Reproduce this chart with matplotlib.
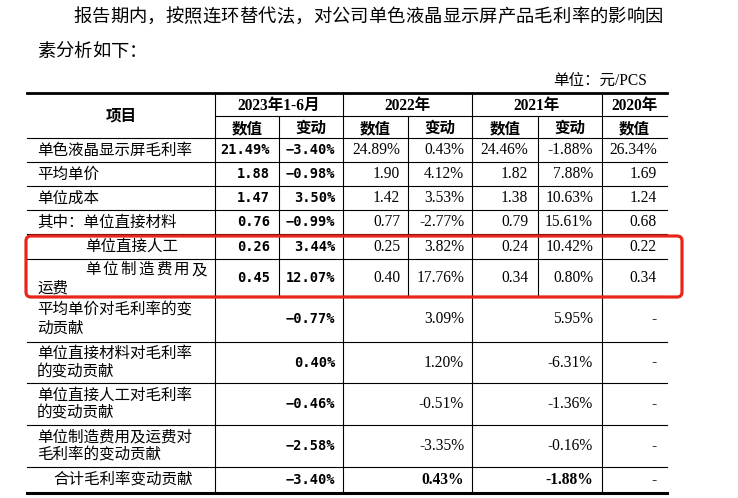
import matplotlib.pyplot as plt
from matplotlib.patches import FancyBboxPatch

# ---- data ----
items = ['单色液晶显示屏毛利率', '平均单价', '单位成本', '其中：单位直接材料',
         '单位直接人工', '单位制造费用及运费']
val_2023 = [21.49, 1.88, 1.47, 0.76, 0.26, 0.45]
chg_2023 = [-3.40, -0.98, 3.50, -0.99, 3.44, 12.07]
val_2022 = [24.89, 1.90, 1.42, 0.77, 0.25, 0.40]
chg_2022 = [0.43, 4.12, 3.53, -2.77, 3.82, 17.76]
val_2021 = [24.46, 1.82, 1.38, 0.79, 0.24, 0.34]
chg_2021 = [-1.88, 7.88, 10.63, 15.61, 10.42, 0.80]
val_2020 = [26.34, 1.69, 1.24, 0.68, 0.22, 0.34]

contrib_items = ['平均单价对毛利率的变动贡献', '单位直接材料对毛利率的变动贡献',
                 '单位直接人工对毛利率的变动贡献', '单位制造费用及运费对毛利率的变动贡献',
                 '合计毛利率变动贡献']
contrib_2023 = [-0.77, 0.40, -0.46, -2.58, -3.40]
contrib_2022 = [3.09, 1.20, -0.51, -3.35, 0.43]
contrib_2021 = [5.95, -6.31, -1.36, -0.16, -1.88]

periods = ['2023年1-6月', '2022年', '2021年', '2020年']
sub_heads = ['数值', '变动']

title1 = '报告期内，按照连环替代法，对公司单色液晶显示屏产品毛利率的影响因'
title2 = '素分析如下：'
unit = '单位：元/PCS'

CJK = ['Noto Sans CJK SC']
SERIF = ['Liberation Serif', 'Noto Sans CJK SC']
MONO = ['DejaVu Sans Mono', 'Noto Sans CJK SC']
FS = 11.2

fig = plt.figure(figsize=(7.38, 4.98), dpi=100)
ax = fig.add_axes([0, 0, 1, 1])
ax.set_xlim(0, 738)
ax.set_ylim(498, 0)
ax.axis('off')

# layout (pixels)
xs = [27, 215, 279, 343, 408, 472, 538, 602, 667]
rows = [138, 162, 186, 210, 234, 259, 296, 342, 383, 425, 467, 493]
top, mid = 93, 116


def fmt(v, pct, uni=False):
    s = f'{v:.2f}' + ('%' if pct else '')
    if uni:
        s = s.replace('-', '\u2212')
    return s


def spaced(x, y, s, pitch, **kw):
    # draw characters one by one at a fixed pitch
    for c, ch in enumerate(s):
        ax.text(x + c * pitch, y, ch, va='center', **kw)


# title text
spaced(73, 17, title1, 18.45, fontsize=13.2, family=CJK)
spaced(37, 52, title2, 18.45, fontsize=13.2, family=CJK)
ax.text(647, 81, unit, fontsize=FS, family=SERIF, va='center', ha='right')

# rules
ax.plot([xs[0], xs[-1]], [top, top], color='black', lw=2.0)
ax.plot([xs[0], xs[-1]], [rows[-1], rows[-1]], color='black', lw=2.2)
ax.plot([xs[1], xs[-1]], [mid, mid], color='black', lw=0.8)
for y in rows[:-1]:
    ax.plot([xs[0], xs[-1]], [y, y], color='black', lw=0.8)
for x in [xs[1], xs[3], xs[5], xs[7]]:
    ax.plot([x, x], [top, rows[-1]], color='black', lw=0.8)
for x in [xs[2], xs[4], xs[6]]:
    ax.plot([x, x], [mid, rows[6]], color='black', lw=0.8)

# header
ax.text((xs[0] + xs[1]) / 2, (top + rows[0]) / 2, '项目', fontsize=FS, family=CJK,
        weight='bold', ha='center', va='center')
spans = [(xs[1], xs[3]), (xs[3], xs[5]), (xs[5], xs[7]), (xs[7], xs[8])]
for i, (a, b) in enumerate(spans):
    ax.text((a + b) / 2, (top + mid) / 2 + 1, periods[i], fontsize=FS,
            family=SERIF, weight='bold', ha='center', va='center')
for j in range(7):
    ax.text((xs[j + 1] + xs[j + 2]) / 2, (mid + rows[0]) / 2 + 1, sub_heads[j % 2],
            fontsize=FS, family=CJK, weight='bold', ha='center', va='center')


def centre(k):
    return (rows[k] + rows[k + 1]) / 2


# upper block
for k in range(6):
    yc = centre(k)
    pct = k == 0
    if k == 4:
        ax.text(85, yc, items[k], fontsize=FS, family=CJK, va='center')
    elif k == 5:
        first = items[k][:7]
        pitch = (207 - 85 - 15.6) / (len(first) - 1)
        spaced(85, yc - 8, first, pitch, fontsize=FS, family=CJK)
        ax.text(37, yc + 11, items[k][7:], fontsize=FS, family=CJK, va='center')
    else:
        ax.text(37, yc, items[k], fontsize=FS, family=CJK, va='center')
    ax.text(270, yc, fmt(val_2023[k], pct, True), fontsize=9.8, family=MONO,
            weight='bold', ha='right', va='center')
    ax.text(335, yc, fmt(chg_2023[k], True, True), fontsize=9.8, family=MONO,
            weight='bold', ha='right', va='center')
    cells = [(400, val_2022[k], pct), (464, chg_2022[k], True),
             (528, val_2021[k], pct), (593, chg_2021[k], True),
             (657, val_2020[k], pct)]
    for x, v, p in cells:
        ax.text(x, yc, fmt(v, p), fontsize=FS, family=SERIF, ha='right', va='center')

# contribution block
for i in range(5):
    k = 6 + i
    yc = centre(k)
    name = contrib_items[i]
    last = i == 4
    if last:
        ax.text((xs[0] + xs[1]) / 2 + 2, yc, name, fontsize=FS, family=CJK,
                ha='center', va='center')
    else:
        ax.text(37, yc - 9, name[:10], fontsize=FS, family=CJK, va='center')
        ax.text(37, yc + 9, name[10:], fontsize=FS, family=CJK, va='center')
    ax.text(335, yc, fmt(contrib_2023[i], True, True), fontsize=9.8, family=MONO,
            weight='bold', ha='right', va='center')
    w = 'bold' if last else 'normal'
    ax.text(464, yc, fmt(contrib_2022[i], True), fontsize=FS, family=SERIF,
            weight=w, ha='right', va='center')
    ax.text(593, yc, fmt(contrib_2021[i], True), fontsize=FS, family=SERIF,
            weight=w, ha='right', va='center')
    ax.text(657, yc, '-', fontsize=FS, family=SERIF, ha='right', va='center')

# red highlight box
box = FancyBboxPatch((26, 236), 656, 61, boxstyle='round,pad=0,rounding_size=5',
                     fill=False, ec='#e8261a', lw=2.3, zorder=5)
ax.add_patch(box)

fig.savefig('out.png', dpi=100)
